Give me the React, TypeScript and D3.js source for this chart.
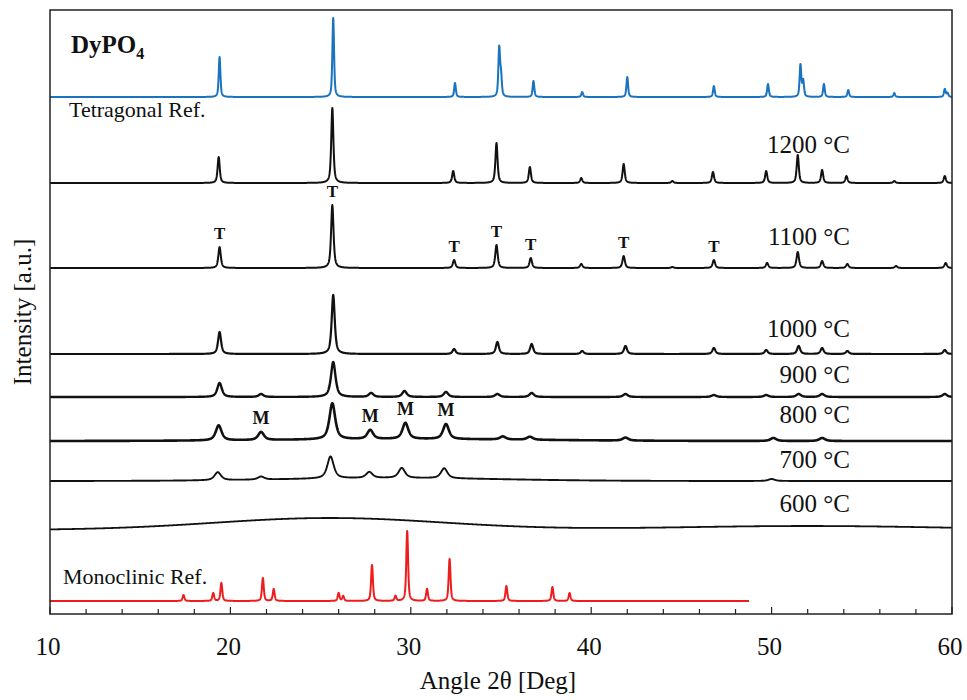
import React from "react";
import * as d3 from "d3";

// ---------- DATA ----------
const xTicks = [10, 20, 30, 40, 50, 60];
const xMinorTicks = [12, 14, 16, 18, 22, 24, 26, 28, 32, 34, 36, 38, 42, 44, 46, 48, 52, 54, 56, 58];

const patternNames = ["Monoclinic Ref.", "600 °C", "700 °C", "800 °C", "900 °C", "1000 °C", "1100 °C", "1200 °C", "Tetragonal Ref."];
// baseline offsets (a.u.)
const patternOffsets = [13, 84, 133, 173, 217, 260, 346, 431, 517];
// peak FWHM (deg)
const patternFwhm = [0.12, 0.4, 0.42, 0.38, 0.3, 0.2, 0.16, 0.14, 0.11];
const patternEnd = [48.75, 60, 60, 60, 60, 60, 60, 60, 60];

const monoPos = [17.4, 19.05, 19.5, 21.8, 22.4, 26.0, 26.25, 27.85, 29.15, 29.8, 30.9, 32.15, 35.3, 37.85, 38.8];
const monoInt = [6, 8, 18, 23, 12, 8, 5, 36, 5, 70, 12, 42, 15, 14, 8];

const t600Pos: number[] = [];
const t600Int: number[] = [];
const t600HumpPos = [25.5, 52];
const t600HumpInt = [12, 4];
const t600HumpFwhm = [15, 18];

const t700Pos = [19.3, 21.7, 25.55, 27.7, 29.5, 31.85, 50.0];
const t700Int = [8, 3, 22, 6, 10, 10, 2];
const t700HumpPos = [29];
const t700HumpInt = [3];
const t700HumpFwhm = [14];

const t800Pos = [19.35, 21.7, 25.65, 27.75, 29.7, 31.95, 35.1, 36.6, 41.9, 50.1, 52.8];
const t800Int = [15, 8, 36, 9, 16, 15, 3, 3, 3, 3, 3];
const t800HumpPos = [30];
const t800HumpInt = [2];
const t800HumpFwhm = [16];

const t900Pos = [19.4, 21.7, 25.7, 27.8, 29.65, 31.95, 34.8, 36.7, 41.9, 46.8, 49.7, 51.5, 52.8, 59.6];
const t900Int = [14, 3, 35, 4, 6, 5, 3, 4, 3, 2, 2, 3, 3, 3];

const t1000Pos = [19.4, 25.7, 32.4, 34.8, 36.7, 39.5, 41.9, 46.8, 49.7, 51.5, 52.8, 54.2, 59.6];
const t1000Int = [22, 59, 5, 12, 10, 3, 8, 6, 4, 8, 6, 3, 4];

const t1100Pos = [19.4, 25.65, 32.4, 34.75, 36.65, 39.45, 41.8, 44.5, 46.8, 49.75, 51.45, 52.8, 54.2, 56.9, 59.65];
const t1100Int = [21, 63, 8, 23, 10, 4, 12, 1, 8, 5, 16, 7, 4, 2, 5];

const t1200Pos = [19.35, 25.65, 32.35, 34.75, 36.6, 39.45, 41.8, 44.5, 46.75, 49.7, 51.45, 52.8, 54.15, 56.8, 59.6];
const t1200Int = [26, 75, 12, 40, 16, 5, 19, 2, 11, 12, 28, 13, 7, 2, 7];

const tetraPos = [19.4, 25.7, 32.45, 34.9, 35.0, 36.8, 39.5, 42.0, 46.8, 49.8, 51.6, 51.75, 52.9, 54.25, 56.8, 59.6, 59.75];
const tetraInt = [40, 79, 14, 48, 20, 16, 5, 20, 11, 13, 32, 16, 13, 7, 4, 8, 4];

const tLabelPos = [19.4, 25.65, 32.4, 34.75, 36.65, 41.8, 46.8];
const mLabelPos = [21.7, 27.75, 29.7, 31.95];

// ---------- LAYOUT ----------
const W = 967;
const H = 700;
const left = 50, right = 952, top = 10, bottom = 614;
const FONT = "'Liberation Serif', 'Times New Roman', Times, serif";

const x = d3.scaleLinear().domain([10, 60]).range([left, right]);
const y = d3.scaleLinear().domain([0, bottom - top]).range([bottom, top]);

const peaksList = [
  { pos: monoPos, int: monoInt },
  { pos: t600Pos, int: t600Int, hp: t600HumpPos, hi: t600HumpInt, hw: t600HumpFwhm },
  { pos: t700Pos, int: t700Int, hp: t700HumpPos, hi: t700HumpInt, hw: t700HumpFwhm },
  { pos: t800Pos, int: t800Int, hp: t800HumpPos, hi: t800HumpInt, hw: t800HumpFwhm },
  { pos: t900Pos, int: t900Int },
  { pos: t1000Pos, int: t1000Int },
  { pos: t1100Pos, int: t1100Int },
  { pos: t1200Pos, int: t1200Int },
  { pos: tetraPos, int: tetraInt },
];
const patternEta = [0.55, 0.7, 0.7, 0.7, 0.7, 0.7, 0.65, 0.65, 0.55];

function pv(xv: number, x0: number, w: number, eta: number) {
  const u = (xv - x0) / (w / 2);
  const L = 1 / (1 + u * u);
  const G = Math.exp(-Math.LN2 * u * u);
  return eta * L + (1 - eta) * G;
}

function valueAt(i: number, xv: number) {
  const p: any = peaksList[i];
  let v = patternOffsets[i];
  for (let k = 0; k < p.pos.length; k++) v += p.int[k] * pv(xv, p.pos[k], patternFwhm[i], patternEta[i]);
  if (p.hp) for (let k = 0; k < p.hp.length; k++) v += p.hi[k] * pv(xv, p.hp[k], p.hw[k], 0);
  return v;
}

function profile(i: number): [number, number][] {
  const xs = d3.range(10, patternEnd[i] + 1e-9, 0.01);
  return xs.map((xv) => [xv, valueAt(i, xv)] as [number, number]);
}

const colors = ["#ee1c1c", "#111", "#111", "#111", "#111", "#111", "#111", "#111", "#1a73c0"];
const strokeW = [2, 1.8, 1.9, 2.6, 2.4, 2.2, 2, 2, 2];
// label baseline gap above pattern baseline (px)
const tempLabelGap = [0, 18, 13, 18, 14, 17, 23, 30, 0];

export default function App() {
  const line = d3.line<[number, number]>().x((d) => x(d[0])).y((d) => y(d[1]));
  return (
    <svg width={W} height={H} style={{ position: "absolute", left: 0, top: 0, background: "#fff" }} fontFamily={FONT}>
      <rect x={0} y={0} width={W} height={H} fill="#fff" />
      {patternNames.map((n, i) => (
        <path key={n} d={line(profile(i)) || ""} fill="none" stroke={colors[i]} strokeWidth={strokeW[i]} strokeLinejoin="round" />
      ))}
      {/* frame */}
      <rect x={left} y={top} width={right - left} height={bottom - top} fill="none" stroke="#222" strokeWidth={1.5} />
      {/* ticks */}
      {xTicks.map((t) => (
        <g key={"M" + t}>
          <line x1={x(t)} x2={x(t)} y1={bottom} y2={bottom - 7} stroke="#222" strokeWidth={1.2} />
          <text x={x(t) - 2} y={655} textAnchor="middle" fontSize={25} fill="#111">{t}</text>
        </g>
      ))}
      {xMinorTicks.map((t) => (
        <line key={"m" + t} x1={x(t)} x2={x(t)} y1={bottom} y2={bottom - 5} stroke="#222" strokeWidth={1.2} />
      ))}
      <text x={(left + right) / 2 - 3} y={689} textAnchor="middle" fontSize={25} fill="#111">Angle 2θ [Deg]</text>
      <text transform={`translate(31, 312) rotate(-90)`} textAnchor="middle" fontSize={25} fill="#111">Intensity [a.u.]</text>

      {/* pattern labels */}
      <text x={71} y={53} fontSize={25} fontWeight="bold" fill="#111">
        DyPO<tspan fontSize={16} dy={6}>4</tspan>
      </text>
      <text x={69} y={117} fontSize={22} fill="#111">Tetragonal Ref.</text>
      <text x={63} y={584} fontSize={22} fill="#111">Monoclinic Ref.</text>
      {patternNames.map((n, i) =>
        i >= 1 && i <= 7 ? (
          <text key={"l" + n} x={850} y={y(patternOffsets[i]) - tempLabelGap[i]} textAnchor="end" fontSize={25} fill="#111">{n}</text>
        ) : null
      )}
      {tLabelPos.map((p) => (
        <text key={"T" + p} x={x(p)} y={y(valueAt(6, p)) - 8} textAnchor="middle" fontSize={17} fontWeight="bold" fill="#111">T</text>
      ))}
      {mLabelPos.map((p) => (
        <text key={"Ml" + p} x={x(p)} y={y(valueAt(3, p)) - 8} textAnchor="middle" fontSize={18} fontWeight="bold" fill="#111">M</text>
      ))}
    </svg>
  );
}
